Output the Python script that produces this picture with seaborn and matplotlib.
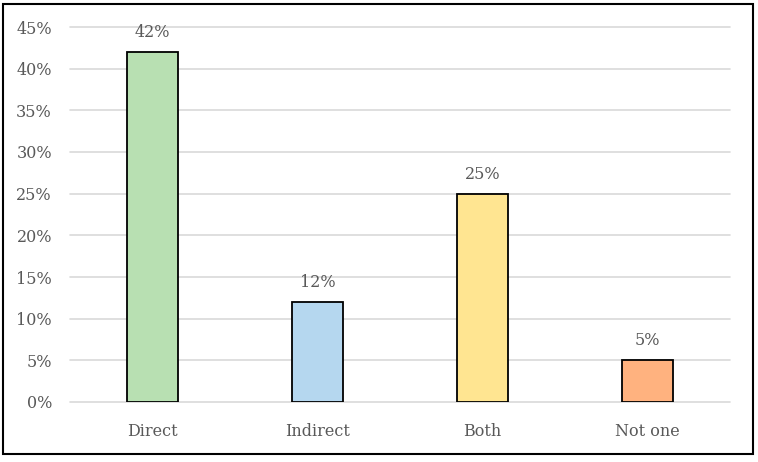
import matplotlib
matplotlib.use('Agg')
import matplotlib.pyplot as plt
import matplotlib.patches as mpatches
import pandas as pd
import seaborn as sns

categories = ['Direct', 'Indirect', 'Both', 'Not one']
shares = [42, 12, 25, 5]
bar_colors = ['#B8E0B2', '#B5D7EF', '#FFE591', '#FFB27F']
y_ticks = [0, 5, 10, 15, 20, 25, 30, 35, 40, 45]

df = pd.DataFrame({'kind': categories, 'share': shares})

sns.set_theme(style='white')
plt.rcParams['font.family'] = ['DejaVu Serif']
text_color = '#595959'

W, H = 758, 462
fig = plt.figure(figsize=(W / 100, H / 100), dpi=100)
ax = fig.add_axes([70 / W, 1 - 402 / H, 660 / W, 375 / H])

sns.barplot(data=df, x='kind', y='share', hue='kind', palette=bar_colors,
            saturation=1, legend=False, width=0.315, edgecolor='black',
            linewidth=1.3, ax=ax, zorder=3)

ax.set_ylim(0, 45)
ax.set_xlim(-0.5, len(categories) - 0.5)
ax.set_yticks(y_ticks)
ax.set_yticklabels([f'{t}%' for t in y_ticks])
ax.yaxis.grid(True, color='#D9D9D9', linewidth=1.2, zorder=0)
for gl in ax.get_ygridlines():
    gl.set_clip_on(False)
ax.set_axisbelow(True)
for s in ax.spines.values():
    s.set_visible(False)
ax.tick_params(axis='both', length=0, labelsize=11.5, colors=text_color)
ax.tick_params(axis='x', pad=15)
ax.tick_params(axis='y', pad=13)
ax.set_xlabel('')
ax.set_ylabel('')

for i, v in enumerate(shares):
    ax.annotate(f'{v}%', (i, v), xytext=(0, 8), textcoords='offset points',
                ha='center', va='bottom', fontsize=11.5, color=text_color)

# outer frame
fig.patches.append(mpatches.Rectangle((3 / W, 1 - 454 / H), 750 / W, 450 / H,
                                      transform=fig.transFigure, fill=False,
                                      edgecolor='black', linewidth=1.5))

fig.savefig('out.png', dpi=100)
